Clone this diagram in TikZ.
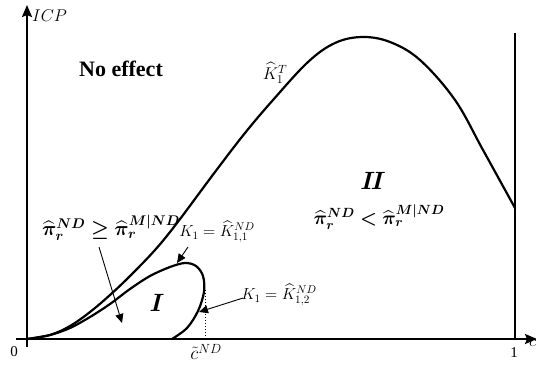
\RequirePackage{fix-cm}
\documentclass[tikz,border=0pt]{standalone}
\usepackage{amsmath,amssymb,bm}
\usepackage{fontspec}
\setmainfont{Liberation Serif}
\usetikzlibrary{arrows.meta}
\tikzset{
  axis/.style={line width=2.2pt},
  curve/.style={line width=2.2pt, line join=round},
  thinarrow/.style={line width=0.9pt, -{Triangle[length=9pt,width=8pt]}},
  axtip/.style={-{Stealth[length=12pt,width=10pt,inset=2pt]}},
  lbl/.style={inner sep=0pt}
}
\begin{document}
\begin{tikzpicture}[x=1pt,y=-1pt]
\useasboundingbox (0,0) rectangle (536,365);
% coordinates
\coordinate (O) at (27,339);
\coordinate (Ybot) at (27,347);
\coordinate (Ytop) at (27,5);
\coordinate (Xbeg) at (16,339);
\coordinate (Xend) at (537,339);
\coordinate (Vtop) at (515,33);
\coordinate (Vbot) at (515,339);
\coordinate (Dtop) at (205,290);
\coordinate (Dbot) at (205,339);
% axes
\draw[axis,axtip] (Ybot) -- (Ytop);
\draw[axis,axtip] (Xbeg) -- (Xend);
\draw[axis] (Vtop) -- (Vbot);
% main curve
\draw[curve] plot[smooth,tension=0.6] coordinates {(27,339) (50,335) (70,326) (90,312) (110,295) (130,276) (155,250) (177,223) (215,172) (245,133) (273,100) (308,62) (335,43) (362,37) (390,42) (420,60) (455,100) (483,150) (515,208)};
% inner loop
\draw[curve] plot[smooth,tension=0.55] coordinates {(27,339) (50,335) (70,328) (90,317) (110,304) (130,289) (150,276) (170,267) (185,263) (196,266) (203,276) (204,292) (198,311) (187,328) (172,339)};
% dotted
\draw[dotted,line width=1pt] (Dtop) -- (Dbot);
% labels
\node[lbl,anchor=west] (ycap) at (32,16) {\fontsize{17}{19}\selectfont $ICP$};
\node[lbl,anchor=west] (xcap) at (529,343) {\fontsize{17}{19}\selectfont $c$};
\node[lbl] (zero) at (14,352) {\fontsize{15}{17}\selectfont 0};
\node[lbl] (one) at (514,353) {\fontsize{15}{17}\selectfont 1};
\node[lbl] (noeff) at (121,69) {\fontsize{22}{24}\selectfont\bfseries No effect};
\node[lbl] (kt) at (275,73) {\fontsize{17}{19}\selectfont $\widehat{K}_1^T$};
\node[lbl] (II) at (373,181) {\fontsize{25}{27}\selectfont $\bm{I\!I}$};
\node[lbl] (fII) at (379,217) {\fontsize{19}{22}\selectfont $\bm{\widehat{\pi}_r^{ND} < \widehat{\pi}_r^{M|ND}}$};
\node[lbl] (fI) at (111,228) {\fontsize{20}{23}\selectfont $\bm{\widehat{\pi}_r^{ND} \geq \widehat{\pi}_r^{M|ND}}$};
\node[lbl] (I) at (157,303) {\fontsize{25}{27}\selectfont $\bm{I}$};
\node[lbl] (k11) at (217,232) {\fontsize{16}{18}\selectfont $K_1=\widehat{K}_{1,1}^{ND}$};
\node[lbl] (k12) at (279,295) {\fontsize{16}{18}\selectfont $K_1=\widehat{K}_{1,2}^{ND}$};
\node[lbl] (ct) at (206,352) {\fontsize{19}{21}\selectfont $\tilde{c}^{ND}$};
% annotation arrows
\coordinate (a1s) at (99,247);
\coordinate (a1e) at (122,323);
\coordinate (a2s) at (188,247);
\coordinate (a2e) at (177,263);
\coordinate (a3s) at (243,298);
\coordinate (a3e) at (199,312);
\draw[thinarrow] (a1s) -- (a1e);
\draw[thinarrow] (a2s) -- (a2e);
\draw[thinarrow] (a3s) -- (a3e);
\end{tikzpicture}
\end{document}
